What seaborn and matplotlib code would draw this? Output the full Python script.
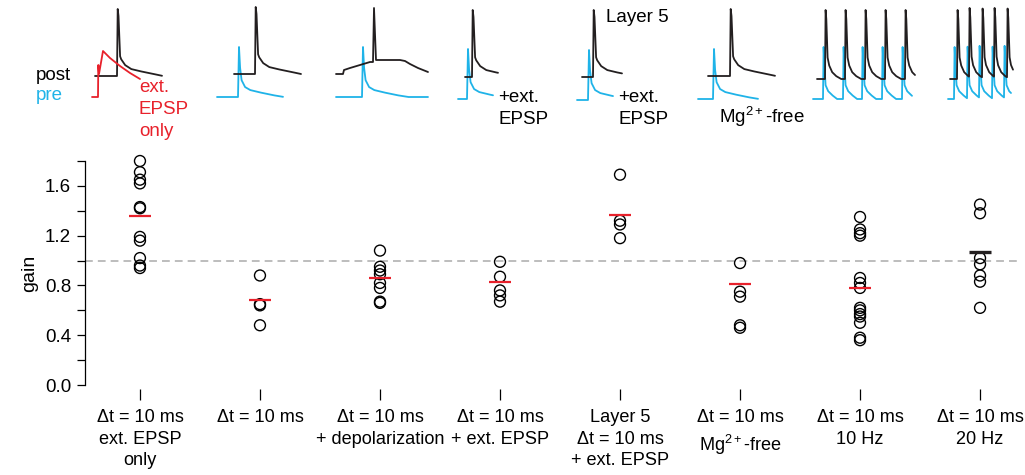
import numpy as np
import pandas as pd
import matplotlib
matplotlib.use("Agg")
import matplotlib.pyplot as plt
from matplotlib.ticker import FormatStrFormatter
import seaborn as sns

# ---------------- data ----------------
CATEGORIES = [
    "\u0394t = 10 ms\next. EPSP\nonly",
    "\u0394t = 10 ms",
    "\u0394t = 10 ms\n+ depolarization",
    "\u0394t = 10 ms\n+ ext. EPSP",
    "Layer 5\n\u0394t = 10 ms\n+ ext. EPSP",
    "\u0394t = 10 ms\nMg$^{2+}$-free",
    "\u0394t = 10 ms\n10 Hz",
    "\u0394t = 10 ms\n20 Hz",
]
GAIN_EXT_ONLY = [1.80, 1.71, 1.65, 1.62, 1.43, 1.42, 1.19, 1.16, 1.02, 0.96, 0.94]
GAIN_DT10 = [0.88, 0.65, 0.64, 0.48]
GAIN_DEPOL = [1.08, 0.95, 0.92, 0.89, 0.82, 0.78, 0.67, 0.66]
GAIN_EXT = [0.99, 0.87, 0.76, 0.72, 0.67]
GAIN_L5 = [1.69, 1.32, 1.29, 1.18]
GAIN_MG = [0.98, 0.75, 0.71, 0.48, 0.46]
GAIN_10HZ = [1.35, 1.25, 1.22, 1.20, 0.86, 0.82, 0.78, 0.62, 0.60, 0.57,
             0.55, 0.50, 0.38, 0.36]
GAIN_20HZ = [1.45, 1.38, 1.02, 0.97, 0.88, 0.83, 0.62]
GAINS = [GAIN_EXT_ONLY, GAIN_DT10, GAIN_DEPOL, GAIN_EXT, GAIN_L5, GAIN_MG,
         GAIN_10HZ, GAIN_20HZ]
MEANS = [1.36, 0.68, 0.86, 0.83, 1.37, 0.81, 0.78, 1.07]
MEAN_IS_RED = [True, True, True, True, True, True, True, False]

# waveform templates (time units, amplitude relative to baseline)
POST_AP_T = [0, 0.7, 1.5, 3, 4, 8, 14, 22, 32, 46]
POST_AP_V = [0, 67, 60, 20, 17, 11, 7, 5, 3, 0]
PRE_AP_T = [0, 1, 2, 3.5, 7, 12, 20, 34, 46]
PRE_AP_V = [0, 50, 30, 17, 10, 7, 5, 2, 0]
TRAIN_POST_T = [0, 0.6, 1.3, 2.5, 4, 7, 11, 16]
TRAIN_POST_V = [0, 69, 60, 22, 14, 7, 3, 0]
TRAIN_PRE_T = [0, 0.6, 1.3, 2.5, 5, 9, 14]
TRAIN_PRE_V = [0, 52, 35, 14, 8, 4, 0]
EXT_EPSP_T = [0, 6, 6.3, 7, 11, 18, 28, 38, 48]
EXT_EPSP_V = [0, 0, 32, 23, 46, 39, 31, 24, 18]
DEPOL_POST_T = [0, 7, 8, 14, 24, 34, 37, 38, 40, 49, 64, 69, 74, 82, 92]
DEPOL_POST_V = [0, 0, 4, 6, 9, 12, 12, 66, 14, 14, 14, 13, 10, 6, 2]

# spike times per panel (post, pre)
POST_SPIKES = [[52], [70], None, [47], [48], [65], [40, 60, 80, 100, 120],
               [52, 64, 77, 89, 102]]
PRE_SPIKES = [None, [53], [57], [42], [43], [48], [38, 58, 77, 97, 117],
              [49, 62, 74, 87, 99]]

# ---------------- layout ----------------
W, H = 1025, 475
POST_SPAN = [(30, 97), (49, 116), (31, 123), (40, 73), (37, 77), (43, 110),
             (32, 130), (45, 108)]
PRE_SPAN = [(27, 75), (32, 98), (31, 123), (33, 68), (32, 68), (33, 93),
            (28, 127), (43, 106)]
POST_BASE = [76, 74, 74, 77, 77, 76, 79, 79]
PRE_BASE = [97, 97, 97, 99, 100, 99, 99, 99]

BLUE = "#1fb3e8"
RED = "#e8212b"
BLACK = "#231f20"
FS = 13.5
FS_X = 13.1

sns.set_theme(style="ticks")
plt.rcParams["font.family"] = ["Liberation Sans", "DejaVu Sans"]
plt.rcParams["mathtext.fontset"] = "custom"
plt.rcParams["mathtext.rm"] = "Liberation Sans"
plt.rcParams["mathtext.it"] = "Liberation Sans:italic"
plt.rcParams["mathtext.default"] = "regular"

fig = plt.figure(figsize=(W / 100, H / 100), dpi=100)

# ---------------- main axes ----------------
ax = fig.add_axes([85 / W, 1 - 385 / H, 935 / W, 224 / H])
rows = []
for i, vals in enumerate(GAINS):
    for v in vals:
        rows.append({"pos": i, "gain": v})
df = pd.DataFrame(rows)

ax.axhline(1.0, color="#bdbdbd", lw=1.4, dashes=(4, 2.6), zorder=1)
sns.scatterplot(data=df, x="pos", y="gain", ax=ax, marker="o", s=62,
                color="black", linewidth=1.0, legend=False, zorder=3,
                clip_on=False)
coll = ax.collections[-1]
coll.set_facecolor("none")
coll.set_edgecolor("black")

pos = np.arange(len(MEANS))
for p, m, red in zip(pos, MEANS, MEAN_IS_RED):
    ax.hlines(m, p - 0.095, p + 0.095, color=RED if red else BLACK,
              lw=1.6 if red else 2.4, zorder=4)

ax.set_xlim(-0.458, 7.333)
ax.set_ylim(0, 1.8)
ax.set_xticks(pos)
ax.set_xticklabels(CATEGORIES)
ax.set_yticks([0.0, 0.4, 0.8, 1.2, 1.6])
ax.set_yticks([0.2, 0.6, 1.0, 1.4, 1.8], minor=True)
ax.yaxis.set_major_formatter(FormatStrFormatter("%.1f"))
ax.tick_params(axis="y", which="both", length=6, width=0.9, colors="black",
               labelsize=FS, pad=4)
ax.tick_params(axis="x", length=8, width=0.9, colors="black", pad=6.5,
               labelsize=FS_X)
ax.set_xlabel("")
ax.set_ylabel("gain", fontsize=FS + 0.5, color="black", labelpad=5)
for s in ["top", "right", "bottom"]:
    ax.spines[s].set_visible(False)
ax.spines["bottom"].set_position(("outward", 3))
ax.spines["left"].set_linewidth(0.9)
ax.spines["left"].set_color("black")
fig.canvas.draw()
for lab in ax.get_xticklabels():
    lab.set_linespacing(1.35)


# ---------------- trace insets ----------------
def build(spikes, tt, vv, t0, t1):
    t = np.arange(t0, t1 + 0.05, 0.1)
    v = np.zeros_like(t)
    for s in spikes:
        v += np.interp(t - s, tt, vv, left=0, right=0)
    return t, v


for i in range(8):
    cx = 140 + 120 * i
    left = cx - 75
    iax = fig.add_axes([left / W, 1 - 112 / H, 150 / W, 112 / H])
    iax.set_xlim(0, 150)
    iax.set_ylim(-112, 0)
    iax.axis("off")
    if i == 0:
        t0, _ = PRE_SPAN[0]
        iax.plot(np.array(EXT_EPSP_T) + t0, np.array(EXT_EPSP_V) - PRE_BASE[0],
                 color=RED, lw=1.3, zorder=3)
    else:
        tmpl = (TRAIN_PRE_T, TRAIN_PRE_V) if i >= 6 else (PRE_AP_T, PRE_AP_V)
        t, v = build(PRE_SPIKES[i], tmpl[0], tmpl[1], *PRE_SPAN[i])
        iax.plot(t, v - PRE_BASE[i], color=BLUE, lw=1.3)
    if i == 2:
        t0, _ = POST_SPAN[2]
        iax.plot(np.array(DEPOL_POST_T) + t0,
                 np.array(DEPOL_POST_V) - POST_BASE[2], color=BLACK, lw=1.3)
    else:
        tmpl = (TRAIN_POST_T, TRAIN_POST_V) if i >= 6 else (POST_AP_T, POST_AP_V)
        t, v = build(POST_SPIKES[i], tmpl[0], tmpl[1], *POST_SPAN[i])
        iax.plot(t, v - POST_BASE[i], color=BLACK, lw=1.3, zorder=2)


# ---------------- annotations ----------------
def ftext(x, y, s, **kw):
    fig.text(x / W, 1 - y / H, s, fontsize=FS, va="center", **kw)


ftext(36, 75, "post", color="black")
ftext(36, 96, "pre", color=BLUE)
ftext(139, 87, "ext.", color=RED)
ftext(139, 109, "EPSP", color=RED)
ftext(139, 131, "only", color=RED)
ftext(498, 98, "+ext.", color="black")
ftext(498, 120, "EPSP", color="black")
ftext(618, 98, "+ext.", color="black")
ftext(618, 120, "EPSP", color="black")
ftext(606, 18, "Layer 5", color="black")
ftext(719, 117, "Mg$^{2+}$-free", color="black")

fig.savefig("out.png", dpi=100)
